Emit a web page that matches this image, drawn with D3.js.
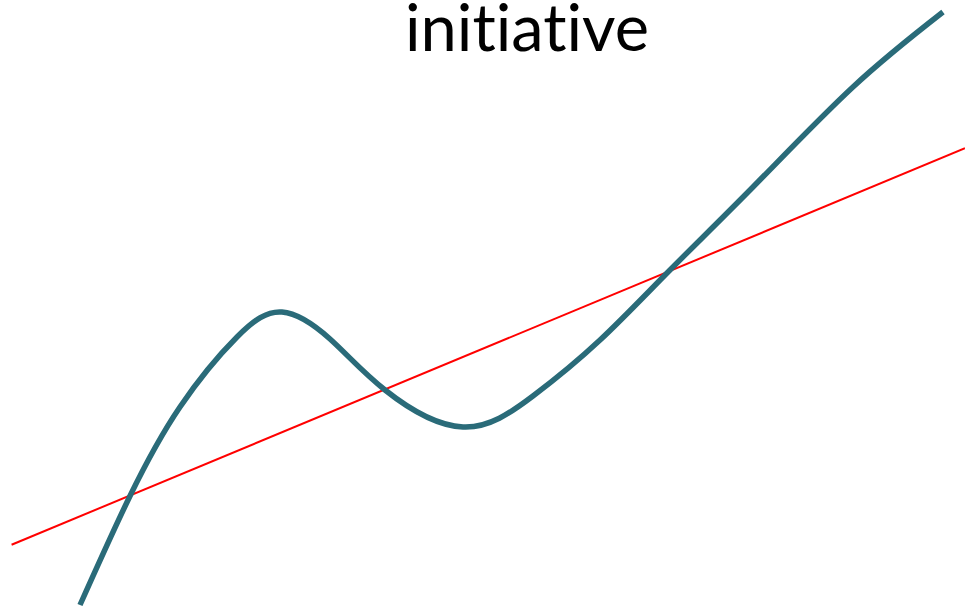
<!DOCTYPE html>
<html>
<head>
<meta charset="utf-8">
<script src="https://cdn.jsdelivr.net/npm/d3@7"></script>
<style>
  body { margin: 0; background: #fff; }
  svg { display: block; }
</style>
</head>
<body>
<div id="chart"></div>
<script>
var svgWidth = 965;
var svgHeight = 610;

// curve points (x 0-100, y 0-100)
var curveX = [8.29, 13.47, 18.65, 24.56, 29.22, 34.20, 39.90, 47.98, 55.23, 62.18,
  69.43, 78.03, 88.39, 97.72];
var curveY = [0.82, 18.69, 33.28, 44.75, 48.85, 44.43, 36.07, 30.00, 35.08, 44.26,
  55.74, 69.34, 85.74, 98.03];

// straight trend line end points
var lineX = [1.2, 100];
var lineY = [10.7, 75.7];

var title = "initiative";

var svg = d3.select("#chart")
  .append("svg")
  .attr("width", svgWidth)
  .attr("height", svgHeight);

var xScale = d3.scaleLinear().domain([0, 100]).range([0, svgWidth]);
var yScale = d3.scaleLinear().domain([0, 100]).range([svgHeight, 0]);

var curveData = curveX.map((x, i) => ({ x: x, y: curveY[i] }));
var trendData = lineX.map((x, i) => ({ x: x, y: lineY[i] }));

var line = d3.line()
  .x(d => xScale(d.x))
  .y(d => yScale(d.y));

// red trend line
svg.append("path")
  .datum(trendData)
  .attr("fill", "none")
  .attr("stroke", "#ff0000")
  .attr("stroke-width", 2)
  .attr("d", line);

// teal curve
svg.append("path")
  .datum(curveData)
  .attr("fill", "none")
  .attr("stroke", "#2a6b79")
  .attr("stroke-width", 5.5)
  .attr("d", line.curve(d3.curveNatural));

svg.append("text")
  .attr("x", 527)
  .attr("y", 51)
  .attr("text-anchor", "middle")
  .style("font-family", "Lato, 'Open Sans', sans-serif")
  .style("font-size", "65px")
  .style("font-variant-ligatures", "none")
  .style("fill", "#000")
  .text(title);
</script>
</body>
</html>
